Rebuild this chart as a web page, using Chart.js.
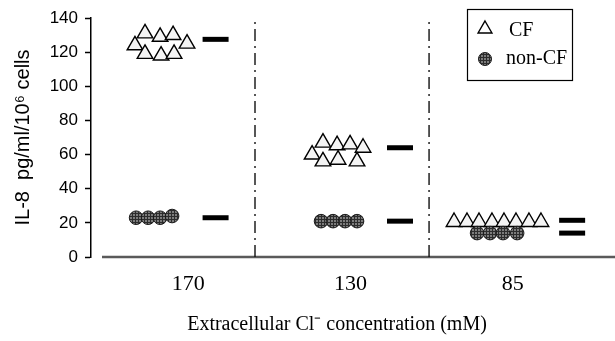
<!DOCTYPE html>
<html><head><meta charset="utf-8">
<script src="https://cdn.jsdelivr.net/npm/chart.js@4/dist/chart.umd.min.js"></script>
<style>html,body{margin:0;padding:0;background:#fff;}#wrap{width:615px;height:341px;position:relative;}</style>
</head><body><div id="wrap"><canvas id="c"></canvas></div>
<script>
// ---- data ----
const categories = ['170', '130', '85'];
const categoryPos = [1, 2, 3];
const yTickStep = 20;
const yMax = 140;
const cf170Pos = [0.671, 0.733, 0.826, 0.906, 0.992, 0.733, 0.832, 0.912];
const cf170Val = [124, 131, 129, 130, 125, 119, 118, 119];
const nonCf170Pos = [0.678, 0.752, 0.826, 0.900];
const nonCf170Val = [23, 23, 23, 24];
const cf130Pos = [1.763, 1.830, 1.917, 1.997, 2.077, 1.830, 1.923, 2.040];
const cf130Val = [60, 67, 65.5, 66, 64, 56, 57, 56];
const nonCf130Pos = [1.818, 1.892, 1.966, 2.040];
const nonCf130Val = [21, 21, 21, 21];
const cf85Pos = [2.638, 2.718, 2.792, 2.872, 2.946, 3.020, 3.100, 3.174];
const cf85Val = [20.5, 20.5, 20.5, 20.5, 20.5, 20.5, 20.5, 20.5];
const nonCf85Pos = [2.780, 2.860, 2.940, 3.027];
const nonCf85Val = [14, 14, 14, 14];
const meanPos = [1.168, 2.305, 3.366];
const cfMean = [127.5, 64, 21.5];
const nonCfMean = [23, 21, 14];
const dividerPos = [1.411, 2.484];
const seriesNames = ['CF', 'non-CF'];
const yTitle = 'IL-8  pg/ml/10⁶ cells';
const xTitle = 'Extracellular Cl⁻ concentration (mM)';

// ---- helpers ----
const zip = (xs, ys) => xs.map((x, i) => ({x, y: ys[i]}));

// mesh pattern for the filled circles
const pc = document.createElement('canvas');
pc.width = 3; pc.height = 3;
const pctx = pc.getContext('2d');
pctx.fillStyle = '#7c7c7c'; pctx.fillRect(0, 0, 3, 3);
pctx.fillStyle = '#2c2c2c'; pctx.fillRect(0, 0, 3, 1); pctx.fillRect(0, 0, 1, 3);
const mesh = pctx.createPattern(pc, 'repeat');

const triStyle = {type: 'scatter', pointStyle: 'triangle', pointRadius: 9, backgroundColor: '#f4f4f4',
  borderColor: '#000', borderWidth: 1.4, showLine: false, clip: false, order: 1};
const dotStyle = {type: 'scatter', pointStyle: 'circle', pointRadius: 6.8, backgroundColor: mesh,
  borderColor: '#1a1a1a', borderWidth: 1, showLine: false, clip: false, order: 0};
const barStyle = {type: 'scatter', pointStyle: 'line', pointRadius: 13, borderColor: '#000',
  backgroundColor: '#000', borderWidth: 5, showLine: false, clip: false, order: 0};

const datasets = [];
dividerPos.forEach((p, i) => datasets.push({
  type: 'line', label: 'divider' + i, data: [{x: p, y: 0}, {x: p, y: yMax}],
  borderColor: '#111', borderWidth: 1.4, borderDash: [12, 5, 2, 5], pointRadius: 0, order: 5, clip: false
}));
[[cf170Pos, cf170Val], [cf130Pos, cf130Val], [cf85Pos, cf85Val]].forEach(([p, v], i) =>
  datasets.push(Object.assign({label: seriesNames[0] + i, data: zip(p, v)}, triStyle)));
[[nonCf170Pos, nonCf170Val], [nonCf130Pos, nonCf130Val], [nonCf85Pos, nonCf85Val]].forEach(([p, v], i) =>
  datasets.push(Object.assign({label: seriesNames[1] + i, data: zip(p, v)}, dotStyle)));
datasets.push(Object.assign({label: 'CF mean', data: zip(meanPos, cfMean)}, barStyle));
datasets.push(Object.assign({label: 'non-CF mean', data: zip(meanPos, nonCfMean)}, barStyle));

const decor = {
  id: 'decor',
  beforeDatasetsDraw(chart) {
    const {ctx, chartArea, scales} = chart;
    const y0 = scales.y.getPixelForValue(0);
    ctx.save();
    ctx.strokeStyle = '#5a5a5a'; ctx.lineWidth = 2.5;
    ctx.beginPath(); ctx.moveTo(chartArea.left + 11, y0); ctx.lineTo(chart.width, y0); ctx.stroke();
    ctx.restore();
  },
  afterDraw(chart) {
    const ctx = chart.ctx;
    ctx.save();
    // legend box
    ctx.strokeStyle = '#000'; ctx.lineWidth = 1.2;
    ctx.strokeRect(467.5, 9.5, 105, 71);
    // triangle symbol
    const r = 8;
    ctx.beginPath();
    ctx.moveTo(485, 29 - r);
    ctx.lineTo(485 + r * Math.sin(2 * Math.PI / 3), 29 + r / 2);
    ctx.lineTo(485 - r * Math.sin(2 * Math.PI / 3), 29 + r / 2);
    ctx.closePath();
    ctx.fillStyle = '#fff'; ctx.fill();
    ctx.lineWidth = 1.4; ctx.stroke();
    // circle symbol
    ctx.beginPath(); ctx.arc(485, 59, 6.5, 0, 2 * Math.PI);
    ctx.fillStyle = mesh; ctx.fill(); ctx.strokeStyle = '#1a1a1a'; ctx.lineWidth = 1; ctx.stroke();
    ctx.fillStyle = '#000';
    ctx.font = '20px "Liberation Serif", "Times New Roman", serif';
    ctx.textBaseline = 'middle'; ctx.textAlign = 'left';
    ctx.fillText(seriesNames[0], 509, 31);
    ctx.fillText(seriesNames[1], 506, 59);
    ctx.restore();
  }
};

new Chart(document.getElementById('c'), {
  type: 'scatter',
  data: {datasets},
  options: {
    responsive: true, maintainAspectRatio: false, animation: false,
    layout: {padding: {top: 15, right: 32, left: 0, bottom: 0}},
    plugins: {legend: {display: false}, tooltip: {enabled: false}},
    scales: {
      x: {
        type: 'linear', min: 0.4, max: 3.433,
        afterBuildTicks: s => { s.ticks = categoryPos.map(v => ({value: v})); },
        afterFit: s => { s.height = 84; },
        ticks: {callback: (v, i) => categories[i], color: '#000', padding: 14,
          font: {family: '"Liberation Serif", "Times New Roman", serif', size: 22}, maxRotation: 0},
        grid: {display: false, drawTicks: false},
        border: {display: false},
        title: {display: true, text: xTitle, color: '#000',
          font: {family: '"Liberation Serif", "Times New Roman", serif', size: 20}, padding: {top: 0, bottom: 4}}
      },
      y: {
        min: 0, max: yMax,
        afterFit: s => { s.width = 91; },
        ticks: {stepSize: yTickStep, color: '#000', padding: 7,
          font: {family: '"Liberation Sans", Arial, sans-serif', size: 17}},
        grid: {drawOnChartArea: false, drawTicks: true, tickLength: 6, tickColor: '#000', tickWidth: 1.5},
        border: {display: true, color: '#000', width: 1.5},
        title: {display: true, text: yTitle, color: '#000',
          font: {family: '"Liberation Sans", Arial, sans-serif', size: 20}, padding: {top: 11, bottom: 0}}
      }
    }
  },
  plugins: [decor]
});
</script></body></html>
